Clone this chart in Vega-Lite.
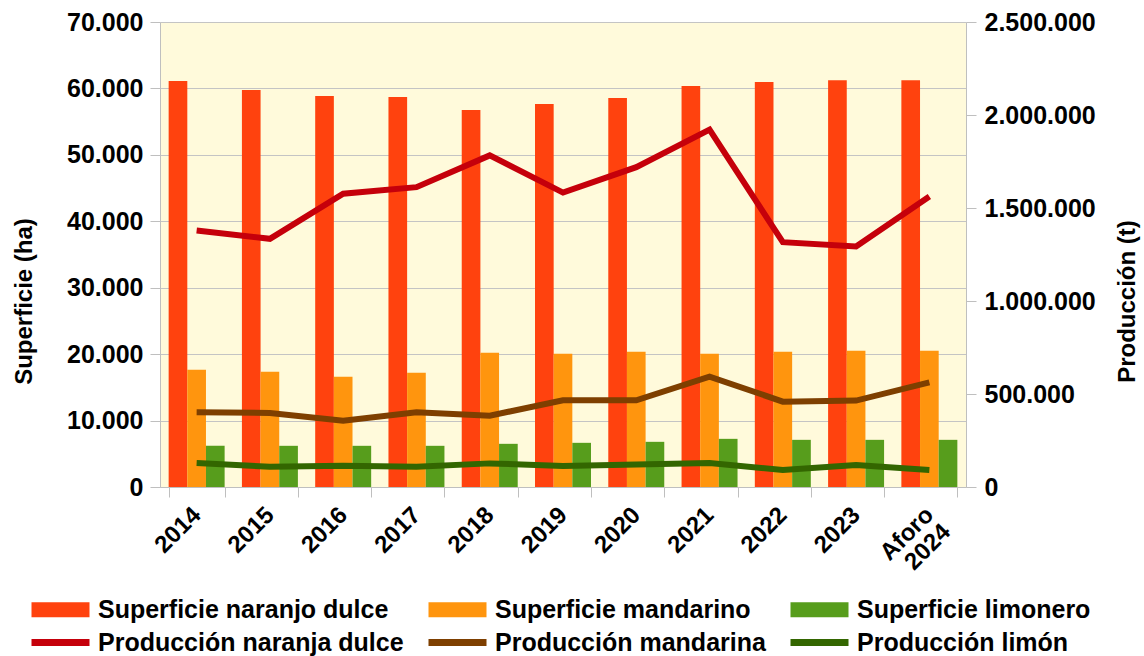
{
  "$schema": "https://vega.github.io/schema/vega-lite/v6.json",
  "width": 806,
  "height": 465,
  "autosize": "none",
  "padding": {"left": 160, "top": 22, "right": 178, "bottom": 169},
  "config": {
    "font": "Liberation Sans",
    "view": {"fill": "#fffadb", "stroke": null},
    "locale": {"number": {"decimal": ",", "thousands": ".", "grouping": [3], "currency": ["", " €"]}},
    "axis": {"labelColor": "#000000", "titleColor": "#000000", "labelFont": "Liberation Sans", "titleFont": "Liberation Sans"}
  },
  "datasets": {
    "superficie": [
      {"anio": "2014", "serie": "Superficie naranjo dulce", "valor": 61100},
      {"anio": "2014", "serie": "Superficie mandarino", "valor": 17650},
      {"anio": "2014", "serie": "Superficie limonero", "valor": 6200},
      {"anio": "2015", "serie": "Superficie naranjo dulce", "valor": 59750},
      {"anio": "2015", "serie": "Superficie mandarino", "valor": 17350},
      {"anio": "2015", "serie": "Superficie limonero", "valor": 6200},
      {"anio": "2016", "serie": "Superficie naranjo dulce", "valor": 58850},
      {"anio": "2016", "serie": "Superficie mandarino", "valor": 16600},
      {"anio": "2016", "serie": "Superficie limonero", "valor": 6200},
      {"anio": "2017", "serie": "Superficie naranjo dulce", "valor": 58700},
      {"anio": "2017", "serie": "Superficie mandarino", "valor": 17200},
      {"anio": "2017", "serie": "Superficie limonero", "valor": 6200},
      {"anio": "2018", "serie": "Superficie naranjo dulce", "valor": 56750},
      {"anio": "2018", "serie": "Superficie mandarino", "valor": 20200},
      {"anio": "2018", "serie": "Superficie limonero", "valor": 6500},
      {"anio": "2019", "serie": "Superficie naranjo dulce", "valor": 57650},
      {"anio": "2019", "serie": "Superficie mandarino", "valor": 20050},
      {"anio": "2019", "serie": "Superficie limonero", "valor": 6650},
      {"anio": "2020", "serie": "Superficie naranjo dulce", "valor": 58550},
      {"anio": "2020", "serie": "Superficie mandarino", "valor": 20350},
      {"anio": "2020", "serie": "Superficie limonero", "valor": 6800},
      {"anio": "2021", "serie": "Superficie naranjo dulce", "valor": 60350},
      {"anio": "2021", "serie": "Superficie mandarino", "valor": 20050},
      {"anio": "2021", "serie": "Superficie limonero", "valor": 7250},
      {"anio": "2022", "serie": "Superficie naranjo dulce", "valor": 60950},
      {"anio": "2022", "serie": "Superficie mandarino", "valor": 20350},
      {"anio": "2022", "serie": "Superficie limonero", "valor": 7100},
      {"anio": "2023", "serie": "Superficie naranjo dulce", "valor": 61250},
      {"anio": "2023", "serie": "Superficie mandarino", "valor": 20500},
      {"anio": "2023", "serie": "Superficie limonero", "valor": 7100},
      {"anio": "Aforo 2024", "serie": "Superficie naranjo dulce", "valor": 61250},
      {"anio": "Aforo 2024", "serie": "Superficie mandarino", "valor": 20500},
      {"anio": "Aforo 2024", "serie": "Superficie limonero", "valor": 7100}
    ],
    "produccion": [
      {"anio": "2014", "serie": "Producción naranja dulce", "t": 1379000},
      {"anio": "2015", "serie": "Producción naranja dulce", "t": 1334500},
      {"anio": "2016", "serie": "Producción naranja dulce", "t": 1576600},
      {"anio": "2017", "serie": "Producción naranja dulce", "t": 1612000},
      {"anio": "2018", "serie": "Producción naranja dulce", "t": 1782700},
      {"anio": "2019", "serie": "Producción naranja dulce", "t": 1583000},
      {"anio": "2020", "serie": "Producción naranja dulce", "t": 1719800},
      {"anio": "2021", "serie": "Producción naranja dulce", "t": 1921000},
      {"anio": "2022", "serie": "Producción naranja dulce", "t": 1316200},
      {"anio": "2023", "serie": "Producción naranja dulce", "t": 1293000},
      {"anio": "Aforo 2024", "serie": "Producción naranja dulce", "t": 1562000},
      {"anio": "2014", "serie": "Producción mandarina", "t": 401400},
      {"anio": "2015", "serie": "Producción mandarina", "t": 398200},
      {"anio": "2016", "serie": "Producción mandarina", "t": 356800},
      {"anio": "2017", "serie": "Producción mandarina", "t": 401400},
      {"anio": "2018", "serie": "Producción mandarina", "t": 383700},
      {"anio": "2019", "serie": "Producción mandarina", "t": 466000},
      {"anio": "2020", "serie": "Producción mandarina", "t": 466500},
      {"anio": "2021", "serie": "Producción mandarina", "t": 593500},
      {"anio": "2022", "serie": "Producción mandarina", "t": 459000},
      {"anio": "2023", "serie": "Producción mandarina", "t": 464400},
      {"anio": "Aforo 2024", "serie": "Producción mandarina", "t": 562900},
      {"anio": "2014", "serie": "Producción limón", "t": 129100},
      {"anio": "2015", "serie": "Producción limón", "t": 109200},
      {"anio": "2016", "serie": "Producción limón", "t": 114600},
      {"anio": "2017", "serie": "Producción limón", "t": 109200},
      {"anio": "2018", "serie": "Producción limón", "t": 127000},
      {"anio": "2019", "serie": "Producción limón", "t": 113000},
      {"anio": "2020", "serie": "Producción limón", "t": 121600},
      {"anio": "2021", "serie": "Producción limón", "t": 129100},
      {"anio": "2022", "serie": "Producción limón", "t": 91500},
      {"anio": "2023", "serie": "Producción limón", "t": 118400},
      {"anio": "Aforo 2024", "serie": "Producción limón", "t": 91500}
    ]
  },
  "encoding": {
    "x": {
      "field": "anio",
      "type": "nominal",
      "scale": {
        "domain": ["2014", "2015", "2016", "2017", "2018", "2019", "2020", "2021", "2022", "2023", "Aforo 2024"],
        "paddingInner": 0.236,
        "paddingOuter": 0.118
      },
      "axis": {
        "title": null,
        "labelAngle": -45,
        "labelAlign": "right",
        "labelBaseline": "middle",
        "labelPadding": 14,
        "labelFontSize": 24,
        "labelFontWeight": "bold",
        "labelLineHeight": 24,
        "labelExpr": "datum.value == 'Aforo 2024' ? ['Aforo', '2024'] : datum.label",
        "tickSize": 10,
        "tickBand": "extent",
        "tickColor": "#bfbfbf",
        "domainColor": "#bfbfbf",
        "grid": false
      }
    },
    "color": {
      "field": "serie",
      "type": "nominal",
      "scale": {
        "domain": ["Superficie naranjo dulce", "Superficie mandarino", "Superficie limonero", "Producción naranja dulce", "Producción mandarina", "Producción limón"],
        "range": ["#ff420e", "#ff950e", "#579d1c", "#c5000b", "#7e3f00", "#336600"]
      },
      "legend": {
        "orient": "none",
        "legendX": -131,
        "legendY": 575,
        "columns": 3,
        "direction": "horizontal",
        "title": null,
        "padding": 0,
        "symbolType": "M-1,-0.75L4.8,-0.75L4.8,0.75L-1,0.75Z",
        "symbolSize": 400,
        "labelFontSize": 25,
        "labelFont": "Liberation Sans",
        "labelFontWeight": "bold",
        "labelColor": "#000000",
        "labelOffset": 44,
        "labelLimit": 600,
        "columnPadding": 22,
        "rowPadding": 7,
        "encode": {
          "symbols": {
            "update": {
              "shape": {"signal": "indexof(datum.value, 'Producción') == 0 ? 'M-1,-0.35L4.8,-0.35L4.8,0.35L-1,0.35Z' : 'M-1,-0.75L4.8,-0.75L4.8,0.75L-1,0.75Z'"},
              "fill": {"scale": "color", "field": "value"},
              "strokeWidth": {"value": 0},
              "opacity": {"value": 1},
              "fillOpacity": {"value": 1}
            }
          }
        }
      }
    }
  },
  "layer": [
    {
      "data": {"name": "superficie"},
      "mark": {"type": "bar", "strokeWidth": 0},
      "encoding": {
        "xOffset": {
          "field": "serie",
          "type": "nominal",
          "scale": {"domain": ["Superficie naranjo dulce", "Superficie mandarino", "Superficie limonero"], "paddingInner": 0, "paddingOuter": 0}
        },
        "y": {
          "field": "valor",
          "type": "quantitative",
          "scale": {"domain": [0, 70000], "nice": false},
          "axis": {
            "orient": "left",
            "title": "Superficie (ha)",
            "values": [0, 10000, 20000, 30000, 40000, 50000, 60000, 70000],
            "format": ",d",
            "labelFontSize": 25,
            "labelFontWeight": "bold",
            "labelPadding": 7,
            "tickSize": 10,
            "tickColor": "#bfbfbf",
            "domainColor": "#bfbfbf",
            "grid": true,
            "gridColor": "#c4c4c4",
            "titleFontSize": 24,
            "titleFontWeight": "bold",
            "titleAngle": 270,
            "titleAlign": "center",
            "titleBaseline": "middle",
            "titleX": -136,
            "titleY": 279
          }
        }
      }
    },
    {
      "data": {"name": "produccion"},
      "mark": {"type": "line", "strokeWidth": 6, "strokeCap": "butt"},
      "encoding": {
        "y": {
          "field": "t",
          "type": "quantitative",
          "scale": {"domain": [0, 2500000], "nice": false},
          "axis": {
            "orient": "right",
            "title": "Producción (t)",
            "values": [0, 500000, 1000000, 1500000, 2000000, 2500000],
            "format": ",d",
            "labelFontSize": 25,
            "labelFontWeight": "bold",
            "labelPadding": 8,
            "tickSize": 10,
            "tickColor": "#bfbfbf",
            "domainColor": "#bfbfbf",
            "grid": false,
            "titleFontSize": 24,
            "titleFontWeight": "bold",
            "titleAngle": 270,
            "titleAlign": "center",
            "titleBaseline": "middle",
            "titleX": 161,
            "titleY": 279
          }
        }
      }
    }
  ],
  "resolve": {"scale": {"y": "independent"}}
}
